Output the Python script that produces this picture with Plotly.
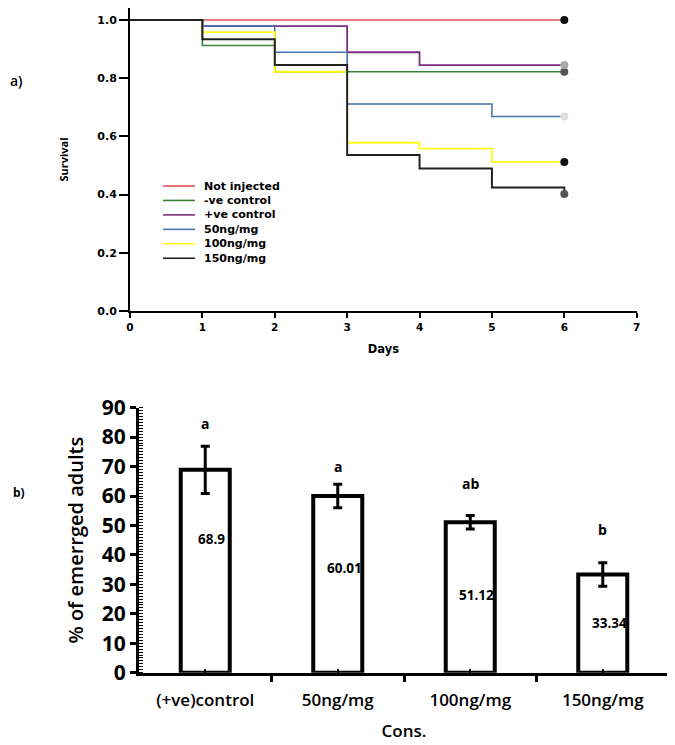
import plotly.graph_objects as go

# Survival curves (top panel)
days = [0, 1, 2, 3, 4, 5, 6]
series_names = ["Not injected", "-ve control", "+ve control", "50ng/mg", "100ng/mg", "150ng/mg"]
not_injected = [1.0, 1.0, 1.0, 1.0, 1.0, 1.0, 1.0]
neg_control = [1.0, 0.912, 0.822, 0.822, 0.822, 0.822, 0.822]
pos_control = [1.0, 0.979, 0.979, 0.889, 0.845, 0.845, 0.845]
dose_50 = [1.0, 0.979, 0.889, 0.711, 0.711, 0.668, 0.668]
dose_100 = [1.0, 0.958, 0.822, 0.578, 0.558, 0.512, 0.512]
dose_150 = [1.0, 0.934, 0.845, 0.536, 0.490, 0.424, 0.402]
survival = [not_injected, neg_control, pos_control, dose_50, dose_100, dose_150]

# Emerged adults (bottom panel)
cons = ["(+ve)control", "50ng/mg", "100ng/mg", "150ng/mg"]
emerged = [68.9, 60.01, 51.12, 33.34]
emerged_err = [8.0, 4.0, 2.3, 4.0]
sig_letters = ["a", "a", "ab", "b"]

line_colors = ["#e05252", "#3d7f3d", "#7a2c7e", "#4a74b0", "#ffff1a", "#222222"]
end_colors = ["#111111", "#555555", "#aaaaaa", "#dddddd", "#111111", "#555555"]
line_widths = [1.6, 1.6, 1.8, 1.6, 1.8, 2.0]

# label heights (layout, not data)
letter_y = [84.8, 70.2, 64.4, 48.8]
inner_y = [45.4, 35.7, 26.4, 16.8]

W, H = 675, 745
OFF = 8  # page body margin of the html page


def px(x):
    return (x - OFF) / W


def py(y):
    return 1 - (y - OFF) / H


top_font = "DejaVu Sans"
bot_font = "Open Sans"

fig = go.Figure()

for name, vals, color, lw in zip(series_names, survival, line_colors, line_widths):
    fig.add_trace(go.Scatter(
        x=days, y=vals, mode="lines", name=name,
        line=dict(shape="hv", color=color, width=lw),
        xaxis="x", yaxis="y", showlegend=False,
    ))

fig.add_trace(go.Scatter(
    x=[days[-1]] * len(survival), y=[v[-1] for v in survival], mode="markers",
    marker=dict(color=end_colors, size=8),
    xaxis="x", yaxis="y", showlegend=False,
))

fig.add_trace(go.Bar(
    x=list(range(len(cons))), y=emerged, width=0.37,
    marker=dict(color="white", line=dict(color="black", width=4)),
    error_y=dict(type="data", array=emerged_err, thickness=3, width=4.5, color="black"),
    xaxis="x2", yaxis="y2", showlegend=False,
))

# letters and values on the bars
for i, (letter, v) in enumerate(zip(sig_letters, emerged)):
    fig.add_annotation(x=i, y=letter_y[i], xref="x2", yref="y2", text=letter,
                       showarrow=False, font=dict(family=bot_font, size=14, color="black", weight="bold"))
    fig.add_annotation(x=i + 0.05, y=inner_y[i], xref="x2", yref="y2", text=f"{v:g}",
                       showarrow=False, font=dict(family=bot_font, size=13.5, color="black", weight="bold"))

# hand-drawn style legend for the survival panel
for i, (name, color) in enumerate(zip(series_names, line_colors)):
    ypx = 186 + i * 14.45
    fig.add_shape(type="line", xref="paper", yref="paper",
                  x0=px(163), x1=px(195), y0=py(ypx), y1=py(ypx),
                  line=dict(color=color, width=1.6))
    fig.add_annotation(x=px(202), y=py(ypx), xref="paper", yref="paper",
                       xanchor="left", yanchor="middle", text=name, showarrow=False,
                       font=dict(family=top_font, size=11, color="black", weight="bold"))

fig.add_annotation(x=0, y=py(80), xref="paper", yref="paper", text="a)",
                   xanchor="left", yanchor="middle", showarrow=False,
                   font=dict(family=bot_font, size=14, color="black", weight=600))
fig.add_annotation(x=px(19), y=py(493), xref="paper", yref="paper", text="b)",
                   xanchor="center", yanchor="middle", showarrow=False,
                   font=dict(family=bot_font, size=12, color="black", weight="bold"))

fig.update_layout(
    width=W, height=H,
    margin=dict(l=0, r=0, t=0, b=0),
    paper_bgcolor="white", plot_bgcolor="white",
    xaxis=dict(
        domain=[px(130), px(636.7)], range=[0, 7], dtick=1, automargin=False,
        showline=True, linecolor="black", linewidth=2, showgrid=False, zeroline=False,
        ticks="outside", ticklen=5, tickwidth=1.5, tickcolor="black",
        tickfont=dict(family=top_font, size=10.5, color="black", weight="bold"),
        title=dict(text="Days", standoff=13,
                   font=dict(family=top_font, size=11.5, color="black", weight="bold")),
        anchor="y",
    ),
    yaxis=dict(
        domain=[py(311), 1.0], range=[0, 1.041], automargin=False,
        tickvals=[0, 0.2, 0.4, 0.6, 0.8, 1.0], tickformat=".1f",
        showline=True, linecolor="black", linewidth=2, showgrid=False, zeroline=False,
        ticks="outside", ticklen=9, tickwidth=1.5, tickcolor="black",
        tickfont=dict(family=top_font, size=11, color="black", weight="bold"),
        title=dict(text="Survival", standoff=26,
                   font=dict(family=bot_font, size=11, color="black", weight="bold")),
        anchor="x",
    ),
    xaxis2=dict(
        domain=[px(139), px(669)], range=[-0.5, 3.5], automargin=False,
        tickmode="array", tickvals=list(range(len(cons))), ticktext=cons,
        showline=True, linecolor="black", linewidth=3, showgrid=False, zeroline=False,
        ticks="inside", ticklen=4, tickwidth=2, tickcolor="black",
        ticklabelstandoff=10,
        minor=dict(tickmode="array", tickvals=[-0.5, 0.5, 1.5, 2.5, 3.5],
                   ticks="outside", ticklen=6, tickwidth=3, tickcolor="black"),
        tickfont=dict(family=bot_font, size=17, color="black", weight=600),
        title=dict(text="Cons.", standoff=16,
                   font=dict(family=bot_font, size=17, color="black", weight=600)),
        anchor="y2",
    ),
    yaxis2=dict(
        domain=[py(672.7), py(407.7)], range=[0, 90], dtick=10, automargin=False,
        showline=True, linecolor="black", linewidth=3, showgrid=False, zeroline=False,
        ticks="outside", ticklen=6, tickwidth=2.5, tickcolor="black",
        minor=dict(ticks="inside", dtick=1, ticklen=4, tickwidth=1.2, tickcolor="black"),
        tickfont=dict(family=bot_font, size=21, color="black", weight="bold"),
        title=dict(text="% of emerrged adults", standoff=13,
                   font=dict(family=bot_font, size=20, color="black", weight=600)),
        anchor="x2",
    ),
)

fig.write_html("out.html")
